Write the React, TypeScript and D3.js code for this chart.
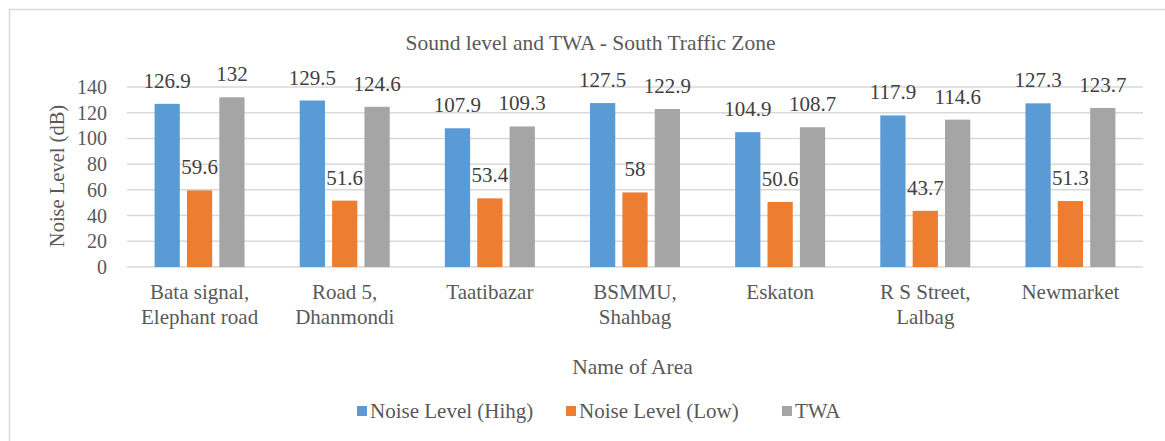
import React from "react";
import * as d3 from "d3";

const areas = [
  "Bata signal,|Elephant road",
  "Road 5,|Dhanmondi",
  "Taatibazar",
  "BSMMU,|Shahbag",
  "Eskaton",
  "R S Street,|Lalbag",
  "Newmarket",
];
const seriesNames = ["Noise Level (Hihg)", "Noise Level (Low)", "TWA"];
const noiseHigh = [126.9, 129.5, 107.9, 127.5, 104.9, 117.9, 127.3];
const noiseLow = [59.6, 51.6, 53.4, 58, 50.6, 43.7, 51.3];
const twa = [132, 124.6, 109.3, 122.9, 108.7, 114.6, 123.7];
const yTicks = [0, 20, 40, 60, 80, 100, 120, 140];
const colors = ["#5B9BD5", "#ED7D31", "#A5A5A5"];

const W = 1165, H = 441;
const margin = { top: 87, right: 22, bottom: 174, left: 127 };
const innerW = W - margin.left - margin.right;
const innerH = H - margin.top - margin.bottom;
const font = "Liberation Serif";
const textColor = "#595959";

export default function App() {
  const values = [noiseHigh, noiseLow, twa];

  const x0 = d3.scaleBand().domain(areas).range([0, innerW]).paddingInner(0.38).paddingOuter(0.19);
  const x1 = d3.scaleBand().domain(seriesNames).range([0, x0.bandwidth()]).paddingInner(0.22);
  const y = d3.scaleLinear().domain([0, 140]).range([innerH, 0]);

  return (
    <svg width={W} height={H} style={{ display: "block", position: "absolute", left: 0, top: 0 }}>
      <rect x={0} y={0} width={W} height={H} fill="#fff" />
      {/* chart border */}
      <rect x={9.5} y={9.5} width={W + 20} height={H + 20} fill="none" stroke="#D9D9D9" strokeWidth={1.5} />

      <text x={590.5} y={50} textAnchor="middle" fontFamily={font} fontSize={21.5} fill={textColor}>
        Sound level and TWA - South Traffic Zone
      </text>

      <g transform={`translate(${margin.left},${margin.top})`}>
        {yTicks.map(t => (
          <line key={"g" + t} x1={0} x2={innerW} y1={y(t)} y2={y(t)} stroke="#D9D9D9" strokeWidth={1.5} />
        ))}
        {yTicks.map(t => (
          <text key={"t" + t} x={-20} y={y(t) + 7} textAnchor="end" fontFamily={font} fontSize={20} fill={textColor}>
            {String(t)}
          </text>
        ))}

        {areas.map((a, i) =>
          seriesNames.map((s, j) => {
            const v = values[j][i];
            return (
              <rect key={a + s} x={x0(a)! + x1(s)!} y={y(v)} width={x1.bandwidth()} height={innerH - y(v)} fill={colors[j]} />
            );
          })
        )}
        {areas.map((a, i) =>
          seriesNames.map((s, j) => {
            const v = values[j][i];
            return (
              <text key={"l" + a + s} x={x0(a)! + x1(s)! + x1.bandwidth() / 2} y={y(v) - 16} textAnchor="middle"
                fontFamily={font} fontSize={21} fill="#404040">
                {String(v)}
              </text>
            );
          })
        )}
        {areas.map(a =>
          a.split("|").map((line, k) => (
            <text key={a + k} x={x0(a)! + x0.bandwidth() / 2} y={innerH + 32 + k * 25} textAnchor="middle"
              fontFamily={font} fontSize={21} fill={textColor}>
              {line}
            </text>
          ))
        )}
      </g>

      <text transform={`translate(64,176) rotate(-90)`} textAnchor="middle" fontFamily={font} fontSize={20.5} fill={textColor}>
        Noise Level (dB)
      </text>

      <text x={632.5} y={374} textAnchor="middle" fontFamily={font} fontSize={21.5} fill={textColor}>
        Name of Area
      </text>

      {seriesNames.map((s, j) => (
        <rect key={"r" + s} x={[357, 566, 782][j]} y={406} width={10} height={10} fill={colors[j]} />
      ))}
      {seriesNames.map((s, j) => (
        <text key={"s" + s} x={[357, 566, 782][j] + 13} y={418} fontFamily={font} fontSize={21} fill={textColor}>
          {s}
        </text>
      ))}
    </svg>
  );
}
